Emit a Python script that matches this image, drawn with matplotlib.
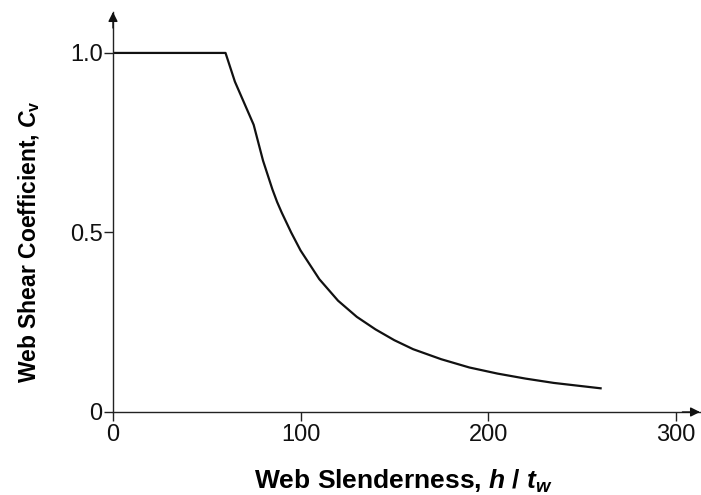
import matplotlib
matplotlib.use("Agg")
import matplotlib.pyplot as plt

plt.rcParams['font.family'] = ['Liberation Sans', 'DejaVu Sans']
plt.rcParams['mathtext.fontset'] = 'custom'
plt.rcParams['mathtext.it'] = 'Liberation Sans:italic:bold'
plt.rcParams['mathtext.rm'] = 'Liberation Sans:bold'
plt.rcParams['mathtext.bf'] = 'Liberation Sans:bold'

# Values
slenderness = [0, 60, 62.5, 65, 67.5, 70, 72.5, 75, 77.5, 80, 82.5, 85, 87.5, 90,
               95, 100, 105, 110, 115, 120, 130, 140, 150, 160, 175, 190, 205,
               220, 235, 250, 260]
cv = [1.0, 1.0, 0.96, 0.92, 0.89, 0.86, 0.83, 0.80, 0.75, 0.70, 0.66, 0.62, 0.585,
      0.555, 0.50, 0.45, 0.41, 0.37, 0.34, 0.31, 0.265, 0.23, 0.20, 0.175, 0.147,
      0.124, 0.107, 0.093, 0.081, 0.072, 0.066]
x_ticks = [0, 100, 200, 300]
x_ticklabels = ["0", "100", "200", "300"]
y_ticks = [0, 0.5, 1.0]
y_ticklabels = ["0", "0.5", "1.0"]

fig = plt.figure(figsize=(7.01, 4.95), dpi=100)
ax = fig.add_axes([113 / 701, 83 / 495, 587 / 701, 400 / 495])
ax.plot(slenderness, cv, color='#111111', lw=1.6, solid_joinstyle='round')
ax.set_xlim(0, 313)
ax.set_ylim(0, 1.114)

for s in ['top', 'right']:
    ax.spines[s].set_visible(False)
for s in ['left', 'bottom']:
    ax.spines[s].set_linewidth(1.0)
    ax.spines[s].set_color('#222222')

ax.set_xticks(x_ticks)
ax.set_xticklabels(x_ticklabels)
ax.set_yticks(y_ticks)
ax.set_yticklabels(y_ticklabels)
ax.tick_params(direction='out', length=6.5, width=1.0, color='#222222',
               labelsize=17, labelcolor='#111111')
ax.tick_params(axis='y', pad=1)
ax.tick_params(axis='x', pad=2)

ax.annotate('', xy=(1.0, 0), xytext=(0.97, 0), xycoords='axes fraction',
            arrowprops=dict(arrowstyle='-|>', color='#111111', lw=1.0,
                            mutation_scale=14, shrinkA=0, shrinkB=0))
ax.annotate('', xy=(0, 1.0), xytext=(0, 0.96), xycoords='axes fraction',
            arrowprops=dict(arrowstyle='-|>', color='#111111', lw=1.0,
                            mutation_scale=14, shrinkA=0, shrinkB=0))

ax.set_xlabel(r"Web Slenderness, $h$ / $t_w$", fontsize=19, fontweight='bold')
ax.set_ylabel(r"Web Shear Coefficient, $C_{\mathregular{v}}$", fontsize=16.5,
              fontweight='bold')
ax.xaxis.set_label_coords((403 - 113) / 587, -(468 - 412) / 400)
ax.yaxis.set_label_coords(-(113 - 42) / 587, (412 - 242) / 400)

fig.savefig("out.png", dpi=100)
